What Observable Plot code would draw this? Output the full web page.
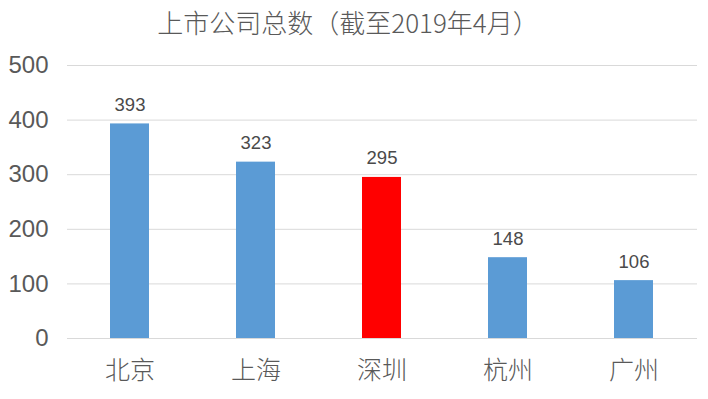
<!DOCTYPE html>
<html>
<head>
<meta charset="utf-8">
<script src="https://cdn.jsdelivr.net/npm/d3@7"></script>
<script src="https://cdn.jsdelivr.net/npm/@observablehq/plot@0.6"></script>
<style>
  html, body { margin: 0; padding: 0; background: #fff; }
  #wrap { width: 708px; height: 399px; position: relative; overflow: hidden; }
  #title { position: absolute; left: 0; top: 0; width: 696px; height: 40px; text-align: center;
    font-family: "Noto Sans CJK SC", sans-serif; font-weight: 300; font-size: 26px; line-height: 43px; color: #595959; }
  #chart { position: absolute; left: 0; top: 40px; }
</style>
</head>
<body>
<div id="wrap">
  <div id="title">上市公司总数（截至2019年4月）</div>
  <div id="chart"></div>
</div>
<script>
const cities = ["北京", "上海", "深圳", "杭州", "广州"];
const counts = [393, 323, 295, 148, 106];
const barColors = ["#5b9bd5", "#5b9bd5", "#ff0000", "#5b9bd5", "#5b9bd5"];
const yTicks = [0, 100, 200, 300, 400, 500];

const data = cities.map((c, i) => ({city: c, value: counts[i], color: barColors[i]}));

const chart = Plot.plot({
  width: 708,
  height: 359,
  marginLeft: 67,
  marginRight: 11,
  marginTop: 25,
  marginBottom: 61,
  x: {domain: cities, paddingInner: 0.69, paddingOuter: 0.345, label: null},
  y: {domain: [0, 500], ticks: yTicks, label: null},
  marks: [
    Plot.ruleY(yTicks, {stroke: "#d9d9d9", strokeWidth: 1}),
    Plot.barY(data, {x: "city", y: "value", fill: "color"}),
    Plot.text(data, {x: "city", y: "value", text: d => String(d.value), dy: -19,
      fontSize: 18.5, fill: "#4a4a4a", fontFamily: "Liberation Sans, Arial, sans-serif"}),
    Plot.axisY({ticks: yTicks, tickSize: 0, tickPadding: 19, fontSize: 24, fill: "#595959",
      fontFamily: "Liberation Sans, Arial, sans-serif", label: null}),
    Plot.axisX({tickSize: 0, tickPadding: 23, fontSize: 25, fill: "#595959",
      fontFamily: "Noto Sans CJK SC, sans-serif", fontWeight: 300, label: null})
  ]
});
document.getElementById("chart").appendChild(chart);
</script>
</body>
</html>
